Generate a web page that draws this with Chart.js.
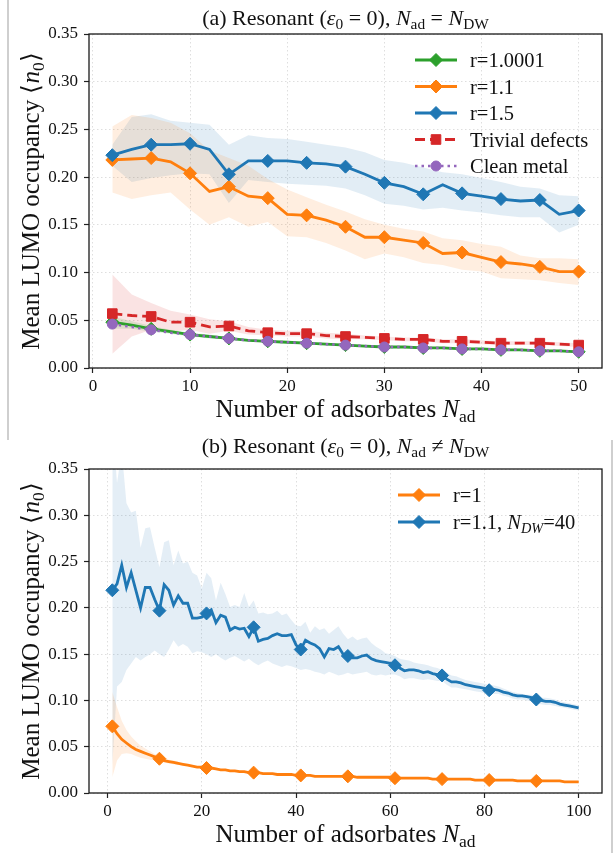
<!DOCTYPE html>
<html>
<head>
<meta charset="utf-8">
<script src="https://cdn.jsdelivr.net/npm/chart.js@4.4.1/dist/chart.umd.min.js"></script>
<style>
  html, body { margin: 0; padding: 0; background: #fff; }
  #page { position: relative; width: 616px; height: 853px; overflow: hidden; }
  canvas { position: absolute; left: 0; }
  #chartA { top: 0; }
  #chartB { top: 430px; }
  .edge { position: absolute; background: #cfcfcf; width: 2px; }
</style>
</head>
<body>
<div id="page">
  <canvas id="chartA" width="616" height="430"></canvas>
  <canvas id="chartB" width="616" height="423"></canvas>
  <div class="edge" style="left:7px; top:0; height:440px"></div>
  <div class="edge" style="left:611px; top:440px; height:413px"></div>
</div>
<script>
// ---------- panel (a): N_ad = N_DW ----------
var nAdA = [2, 4, 6, 8, 10, 12, 14, 16, 18, 20, 22, 24, 26, 28, 30, 32, 34, 36, 38, 40, 42, 44, 46, 48, 50];

var r10001 = [.048, .045, .041, .038, .035, .033, .031, .029, .028, .027, .026, .025, .024, .023, .022, .022, .021, .021, .020, .020, .019, .019, .018, .018, .017];
var r10001Up = [.054, .049, .044, .040, .037, .035, .032, .030, .029, .028, .027, .026, .025, .024, .023, .023, .022, .022, .021, .021, .020, .020, .019, .019, .018];
var r10001Lo = [.041, .041, .038, .036, .033, .031, .030, .028, .027, .026, .025, .024, .023, .022, .021, .021, .020, .020, .019, .019, .018, .018, .017, .017, .016];

var r11 = [.218, .219, .220, .216, .204, .185, .190, .180, .178, .161, .160, .155, .148, .137, .137, .134, .131, .120, .121, .116, .111, .109, .106, .101, .101];
var r11Up = [.253, .265, .262, .257, .246, .228, .220, .212, .198, .187, .179, .171, .164, .156, .150, .146, .143, .136, .134, .130, .127, .118, .115, .115, .114];
var r11Lo = [.184, .177, .181, .184, .166, .150, .158, .148, .153, .138, .137, .131, .123, .114, .120, .116, .110, .108, .103, .101, .094, .093, .092, .089, .087];

var r15 = [.223, .229, .234, .234, .235, .229, .203, .217, .217, .217, .215, .214, .211, .203, .194, .190, .182, .192, .183, .180, .177, .175, .176, .161, .165];
var r15Up = [.234, .263, .266, .259, .257, .255, .234, .244, .241, .240, .237, .234, .231, .226, .218, .215, .210, .205, .203, .199, .195, .190, .188, .181, .180];
var r15Lo = [.212, .195, .199, .202, .204, .203, .173, .197, .195, .193, .192, .191, .188, .181, .172, .170, .166, .168, .165, .163, .160, .158, .158, .142, .150];

var trivial = [.057, .055, .054, .048, .048, .043, .044, .039, .037, .036, .036, .034, .033, .032, .031, .030, .030, .028, .028, .027, .026, .026, .026, .025, .024];
var trivialUp = [.098, .077, .068, .060, .056, .051, .049, .043, .040, .039, .039, .037, .036, .034, .033, .032, .032, .030, .030, .029, .028, .028, .028, .027, .026];
var trivialLo = [.015, .033, .040, .038, .040, .036, .039, .035, .034, .033, .033, .031, .030, .030, .029, .028, .028, .026, .026, .025, .024, .024, .024, .023, .022];

var clean = [.046, .043, .040, .037, .035, .033, .031, .029, .028, .027, .026, .025, .024, .023, .022, .022, .021, .021, .020, .020, .019, .019, .018, .018, .017];

// ---------- panel (b): N_ad != N_DW ----------
var nAdB = Array.from({ length: 100 }, function (_, i) { return i + 1; });

var r1 = [.072, .064, .058, .054, .050, .047, .045, .043, .041, .039,
          .037, .035, .034, .033, .032, .031, .030, .029, .028, .028,
          .027, .027, .026, .025, .025, .024, .024, .023, .023, .022,
          .022, .022, .021, .021, .021, .020, .020, .020, .020, .019,
          .019, .019, .019, .018, .018, .018, .018, .018, .018, .018,
          .018, .018, .017, .017, .017, .017, .017, .017, .017, .017,
          .016, .016, .016, .016, .016, .016, .016, .016, .015, .015,
          .015, .015, .015, .015, .015, .015, .015, .014, .014, .014,
          .014, .014, .014, .014, .014, .014, .013, .013, .013, .013,
          .013, .013, .013, .013, .013, .013, .012, .012, .012, .012];
var nAdBand = [1, 2, 3, 4, 5, 6, 7, 8, 9, 10, 11, 12, 13, 14, 15];
var r1Up = [.109, .093, .078, .068, .061, .056, .051, .048, .045, .042, .040, .038, .036, .035, .034];
var r1Lo = [.017, .035, .042, .043, .042, .040, .038, .037, .036, .035, .034, .033, .032, .031, .030];

var r11dw = [.219, .226, .246, .222, .238, .219, .200, .222, .222, .209,
             .197, .225, .219, .203, .213, .205, .205, .189, .189, .190,
             .194, .198, .184, .192, .190, .176, .179, .177, .178, .169,
             .179, .164, .166, .167, .170, .172, .170, .170, .171, .160,
             .155, .165, .162, .160, .156, .147, .156, .155, .158, .150,
             .148, .146, .146, .148, .149, .145, .143, .142, .141, .140,
             .138, .135, .132, .133, .133, .132, .130, .131, .129, .128,
             .127, .123, .120, .120, .119, .117, .116, .115, .114, .113,
             .111, .112, .111, .109, .108, .106, .105, .105, .104, .103,
             .101, .100, .099, .099, .098, .096, .095, .094, .093, .092];
var r11dwUp = [.400, .335, .370, .313, .303, .305, .265, .286, .287, .265,
               .244, .271, .273, .246, .262, .248, .250, .238, .235, .221,
               .238, .232, .208, .227, .215, .201, .203, .201, .216, .201,
               .208, .194, .195, .193, .194, .197, .192, .194, .187, .181,
               .180, .185, .173, .180, .176, .178, .172, .176, .180, .172,
               .166, .169, .165, .167, .168, .162, .158, .155, .151, .150,
               .148, .145, .144, .143, .141, .140, .139, .138, .136, .135,
               .133, .130, .127, .126, .124, .122, .121, .120, .119, .118,
               .117, .116, .115, .113, .111, .109, .108, .107, .106, .106,
               .104, .103, .103, .102, .101, .099, .098, .097, .096, .095];
var r11dwLo = [.030, .115, .120, .133, .140, .147, .143, .147, .150, .154,
               .150, .147, .155, .165, .158, .161, .158, .151, .153, .152,
               .150, .147, .150, .146, .143, .146, .148, .145, .142, .145,
               .141, .138, .141, .143, .140, .138, .136, .138, .137, .135,
               .133, .134, .133, .131, .130, .128, .131, .129, .127, .128,
               .130, .128, .129, .130, .131, .128, .127, .128, .127, .128,
               .128, .126, .123, .124, .124, .123, .122, .123, .122, .121,
               .121, .117, .114, .114, .113, .112, .111, .110, .109, .108,
               .106, .107, .107, .105, .104, .102, .101, .101, .100, .099,
               .097, .096, .095, .095, .094, .093, .092, .091, .090, .089];

var yTicks = [0, 0.05, 0.10, 0.15, 0.20, 0.25, 0.30, 0.35];
var xTicksA = [0, 10, 20, 30, 40, 50];
var xTicksB = [0, 20, 40, 60, 80, 100];

var BLUE = '#1f77b4', ORANGE = '#ff7f0e', GREEN = '#2ca02c', RED = '#d62728', PURPLE = '#9467bd';
var SERIF = '"Liberation Serif", "Times New Roman", serif';

function toXY(xs, ys) {
    return ys.map(function (y, i) { return { x: xs[i], y: y }; });
}

// a filled band between two curves: upper fills to the next dataset (the lower one)
function band(xs, up, lo, fillColor) {
    return [
        { data: toXY(xs, up), fill: '+1', backgroundColor: fillColor, borderColor: 'rgba(0,0,0,0)', borderWidth: 0, pointRadius: 0, order: 20 },
        { data: toXY(xs, lo), fill: false, borderColor: 'rgba(0,0,0,0)', borderWidth: 0, pointRadius: 0, order: 20 }
    ];
}

function series(xs, ys, color, style, radius, every, order, dash, width) {
    return {
        data: toXY(xs, ys),
        borderColor: color,
        borderWidth: width || 2.8,
        borderDash: dash || [],
        pointStyle: style,
        pointRadius: function (c) { return c.dataIndex % every === 0 ? radius : 0; },
        pointBackgroundColor: color,
        pointBorderColor: color,
        pointBorderWidth: 1,
        fill: false,
        tension: 0,
        order: order
    };
}

// ---------- text with italics / subscripts ----------
function setFont(ctx, size, italic) {
    ctx.font = (italic ? 'italic ' : '') + size + 'px ' + SERIF;
}
function richWidth(ctx, segs, size) {
    var w = 0;
    segs.forEach(function (s) {
        setFont(ctx, s.sub ? size * 0.7 : size, s.it);
        w += ctx.measureText(s.t).width;
    });
    return w;
}
function drawRich(ctx, segs, x, y, size, align) {
    var cx = align === 'center' ? x - richWidth(ctx, segs, size) / 2 : x;
    ctx.textAlign = 'left';
    ctx.textBaseline = 'alphabetic';
    segs.forEach(function (s) {
        setFont(ctx, s.sub ? size * 0.7 : size, s.it);
        ctx.fillText(s.t, cx, y + (s.sub ? size * 0.2 : 0));
        cx += ctx.measureText(s.t).width;
    });
}

function drawMarker(ctx, kind, x, y, color) {
    ctx.fillStyle = color;
    ctx.strokeStyle = color;
    ctx.lineWidth = 1;
    ctx.beginPath();
    if (kind === 'rectRot') {
        var r = 6.5;
        ctx.moveTo(x - r, y); ctx.lineTo(x, y - r); ctx.lineTo(x + r, y); ctx.lineTo(x, y + r);
        ctx.closePath();
    } else if (kind === 'rect') {
        var h = 4.8;
        ctx.rect(x - h, y - h, 2 * h, 2 * h);
    } else {
        ctx.arc(x, y, 5, 0, Math.PI * 2);
    }
    ctx.fill();
    ctx.stroke();
}

var XLABEL = [{ t: 'Number of adsorbates ' }, { t: 'N', it: true }, { t: 'ad', sub: true }];
var YLABEL = [{ t: 'Mean LUMO occupancy \u27E8' }, { t: 'n', it: true }, { t: '0', sub: true }, { t: '\u27E9' }];

var decoPlugin = {
    id: 'deco',
    afterDraw: function (chart, args, o) {
        var ctx = chart.ctx, a = chart.chartArea;
        var cx = (a.left + a.right) / 2;
        ctx.save();
        // full frame like matplotlib spines
        ctx.strokeStyle = '#1a1a1a';
        ctx.lineWidth = 1.3;
        ctx.setLineDash([]);
        ctx.strokeRect(a.left, a.top, a.right - a.left, a.bottom - a.top);

        ctx.fillStyle = '#111';
        drawRich(ctx, o.title, cx, o.titleY, 22, 'center');
        drawRich(ctx, XLABEL, cx, o.xlabelY, 25, 'center');
        ctx.save();
        ctx.translate(39, (a.top + a.bottom) / 2);
        ctx.rotate(-Math.PI / 2);
        drawRich(ctx, YLABEL, 0, 0, 25, 'center');
        ctx.restore();

        o.legend.forEach(function (e, i) {
            var y = o.legendY + i * o.legendDy;
            ctx.strokeStyle = e.color;
            ctx.lineWidth = e.width || 2.8;
            ctx.setLineDash(e.dash || []);
            ctx.beginPath();
            ctx.moveTo(o.legendX, y);
            ctx.lineTo(o.legendX + 42, y);
            ctx.stroke();
            ctx.setLineDash([]);
            drawMarker(ctx, e.marker, o.legendX + 21, y, e.color);
            ctx.fillStyle = '#111';
            drawRich(ctx, e.label, o.legendX + 55, y + 7, 20.5, 'left');
        });
        ctx.restore();
    }
};

function axes(xmin, xmax, xticks) {
    var grid = { color: '#dadada', lineWidth: 0.9, tickLength: 5, tickColor: '#222', tickWidth: 1.2 };
    return {
        x: {
            type: 'linear', min: xmin, max: xmax,
            afterBuildTicks: function (s) { s.ticks = xticks.map(function (v) { return { value: v }; }); },
            afterFit: function (s) { s.height = 40; },
            ticks: { font: { family: SERIF, size: 17 }, color: '#111', padding: 3, maxRotation: 0,
                     callback: function (v) { return String(v); } },
            grid: grid,
            border: { display: false, dash: [1.5, 2.5] }
        },
        y: {
            type: 'linear', min: 0, max: 0.35,
            afterBuildTicks: function (s) { s.ticks = yTicks.map(function (v) { return { value: v }; }); },
            afterFit: function (s) { s.width = 89; },
            ticks: { font: { family: SERIF, size: 17 }, color: '#111', padding: 6,
                     callback: function (v) { return Number(v).toFixed(2); } },
            grid: grid,
            border: { display: false, dash: [1.5, 2.5] }
        }
    };
}

function baseOptions(padTop, padBottom, scales, deco) {
    return {
        responsive: false,
        animation: false,
        devicePixelRatio: 1,
        events: [],
        layout: { padding: { left: 0, right: 14, top: padTop, bottom: padBottom } },
        scales: scales,
        plugins: { legend: { display: false }, tooltip: { enabled: false }, deco: deco }
    };
}

// ---------- chart (a) ----------
var dsA = [].concat(
    band(nAdA, r10001Up, r10001Lo, 'rgba(44,160,44,0.14)'),
    band(nAdA, r11Up, r11Lo, 'rgba(255,127,14,0.13)'),
    band(nAdA, r15Up, r15Lo, 'rgba(31,119,180,0.13)'),
    band(nAdA, trivialUp, trivialLo, 'rgba(214,39,40,0.13)'),
    [
        series(nAdA, r10001, GREEN, 'rectRot', 6.5, 2, 5),
        series(nAdA, r11, ORANGE, 'rectRot', 6.5, 2, 4),
        series(nAdA, r15, BLUE, 'rectRot', 6.5, 2, 3),
        series(nAdA, trivial, RED, 'rect', 6.8, 2, 2, [10, 5]),
        series(nAdA, clean, PURPLE, 'circle', 5, 2, 1, [2.5, 4], 2.5)
    ]
);

new Chart(document.getElementById('chartA').getContext('2d'), {
    type: 'line',
    data: { datasets: dsA },
    options: baseOptions(34, 22, axes(-0.4, 52.4, xTicksA), {
        title: [{ t: '(a) Resonant (' }, { t: '\u03B5', it: true }, { t: '0', sub: true }, { t: ' = 0), ' },
                { t: 'N', it: true }, { t: 'ad', sub: true }, { t: ' = ' }, { t: 'N', it: true }, { t: 'DW', sub: true }],
        titleY: 25,
        xlabelY: 417,
        legendX: 415, legendY: 60, legendDy: 26.5,
        legend: [
            { label: [{ t: 'r=1.0001' }], color: GREEN, marker: 'rectRot' },
            { label: [{ t: 'r=1.1' }], color: ORANGE, marker: 'rectRot' },
            { label: [{ t: 'r=1.5' }], color: BLUE, marker: 'rectRot' },
            { label: [{ t: 'Trivial defects' }], color: RED, marker: 'rect', dash: [10, 5] },
            { label: [{ t: 'Clean metal' }], color: PURPLE, marker: 'circle', dash: [2.5, 4], width: 2.5 }
        ]
    }),
    plugins: [decoPlugin]
});

// ---------- chart (b) ----------
var dsB = [].concat(
    band(nAdBand, r1Up, r1Lo, 'rgba(255,127,14,0.13)'),
    band(nAdB, r11dwUp, r11dwLo, 'rgba(31,119,180,0.12)'),
    [
        series(nAdB, r1, ORANGE, 'rectRot', 6.5, 10, 2),
        series(nAdB, r11dw, BLUE, 'rectRot', 6.5, 10, 1)
    ]
);

new Chart(document.getElementById('chartB').getContext('2d'), {
    type: 'line',
    data: { datasets: dsB },
    options: baseOptions(39, 20, axes(-3.95, 104.95, xTicksB), {
        title: [{ t: '(b) Resonant (' }, { t: '\u03B5', it: true }, { t: '0', sub: true }, { t: ' = 0), ' },
                { t: 'N', it: true }, { t: 'ad', sub: true }, { t: ' \u2260 ' }, { t: 'N', it: true }, { t: 'DW', sub: true }],
        titleY: 23,
        xlabelY: 412,
        legendX: 398, legendY: 65, legendDy: 27,
        legend: [
            { label: [{ t: 'r=1' }], color: ORANGE, marker: 'rectRot' },
            { label: [{ t: 'r=1.1, ' }, { t: 'N', it: true }, { t: 'DW', sub: true, it: true }, { t: '=40' }], color: BLUE, marker: 'rectRot' }
        ]
    }),
    plugins: [decoPlugin]
});
</script>
</body>
</html>
